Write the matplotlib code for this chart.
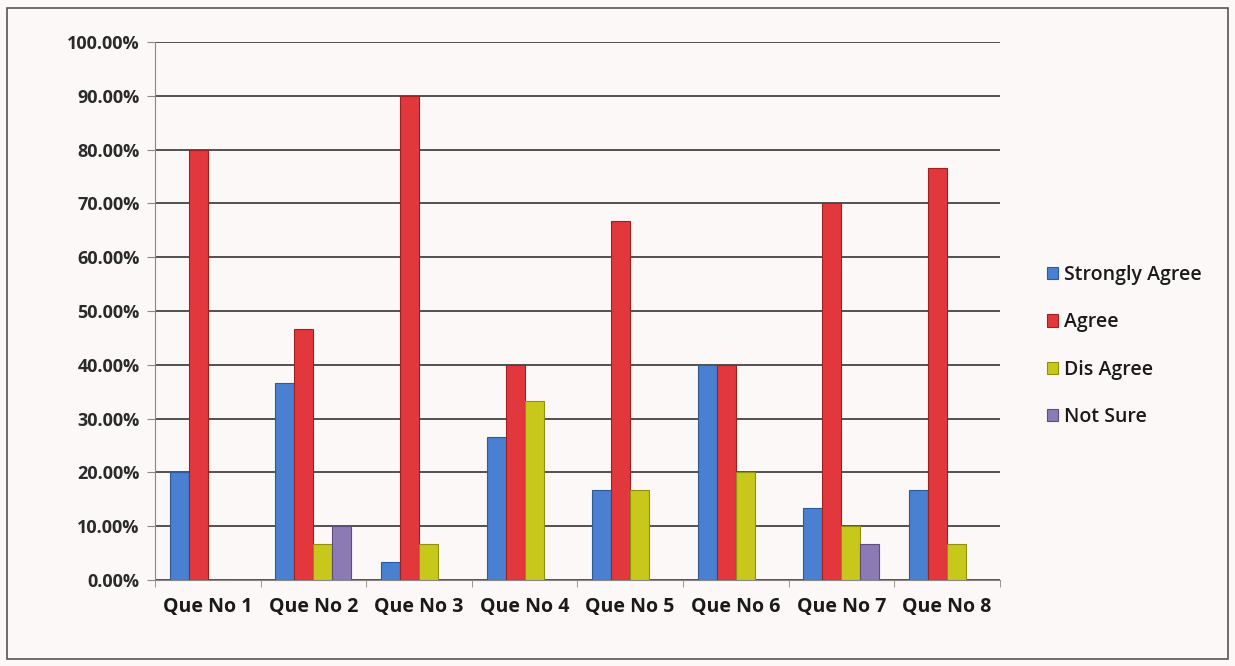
import matplotlib
matplotlib.use("Agg")
import matplotlib.pyplot as plt
import numpy as np
from matplotlib.ticker import FuncFormatter, MultipleLocator
from matplotlib.patches import Rectangle

categories = ["Que No 1", "Que No 2", "Que No 3", "Que No 4", "Que No 5", "Que No 6", "Que No 7", "Que No 8"]
series_names = ["Strongly Agree", "Agree", "Dis Agree", "Not Sure"]
strongly_agree = [20.00, 36.67, 3.33, 26.67, 16.67, 40.00, 13.33, 16.67]
agree = [80.00, 46.67, 90.00, 40.00, 66.67, 40.00, 70.00, 76.67]
dis_agree = [0.00, 6.67, 6.67, 33.33, 16.67, 20.00, 10.00, 6.67]
not_sure = [0.00, 10.00, 0.00, 0.00, 0.00, 0.00, 6.67, 0.00]

colors = ["#4A80D2", "#E2383D", "#C8C81C", "#8C7AB4"]
edges = ["#2E5A9A", "#A02020", "#8F8F10", "#5E4E80"]

plt.rcParams['font.family'] = ['Open Sans', 'DejaVu Sans']
bg = "#FBF8F7"
fig = plt.figure(figsize=(12.35, 6.66), dpi=100, facecolor=bg)
ax = fig.add_axes([0.1255, 0.129, 0.684, 0.808])
ax.set_facecolor(bg)

# outer border
fig.patches.append(Rectangle((0.006, 0.01), 0.988, 0.978, transform=fig.transFigure,
                             fill=False, edgecolor="#555555", linewidth=1.2))

x = np.arange(len(categories))
w = 0.18
data = [strongly_agree, agree, dis_agree, not_sure]
for i, (vals, name) in enumerate(zip(data, series_names)):
    ax.bar(x + (i - 1.5) * w, vals, width=w, color=colors[i], edgecolor=edges[i],
           linewidth=0.8, label=name, zorder=3)

ax.set_xlim(-0.5, len(categories) - 0.5)
ax.set_ylim(0, 100)
ax.yaxis.set_major_locator(MultipleLocator(10))
ax.yaxis.set_major_formatter(FuncFormatter(lambda v, p: f"{v:.2f}%"))
ax.grid(axis='y', color="#444444", linewidth=1.3, zorder=0)
ax.set_xticks(x)
ax.set_xticklabels(categories)
ax.set_xticks(np.arange(-0.5, len(categories)), minor=True)
ax.tick_params(axis='x', which='major', length=0, pad=12, labelsize=14, colors="#1a1a1a")
ax.tick_params(axis='x', which='minor', length=5, color="#888888")
ax.tick_params(axis='y', length=6, color="#888888", labelsize=13, labelcolor="#2a2a2a", pad=5)
for lbl in ax.get_xticklabels() + ax.get_yticklabels():
    lbl.set_fontweight('bold')
for s in ["top", "right"]:
    ax.spines[s].set_visible(False)
ax.spines["left"].set_color("#888888")
ax.spines["bottom"].set_color("#888888")

leg = ax.legend(loc='center left', bbox_to_anchor=(1.035, 0.435), frameon=False,
                fontsize=14, handlelength=0.6, handleheight=0.6, handletextpad=0.3,
                labelspacing=1.4)
for t in leg.get_texts():
    t.set_fontweight('semibold')
    t.set_color("#1a1a1a")

fig.savefig("out.png", dpi=100, facecolor=bg)
